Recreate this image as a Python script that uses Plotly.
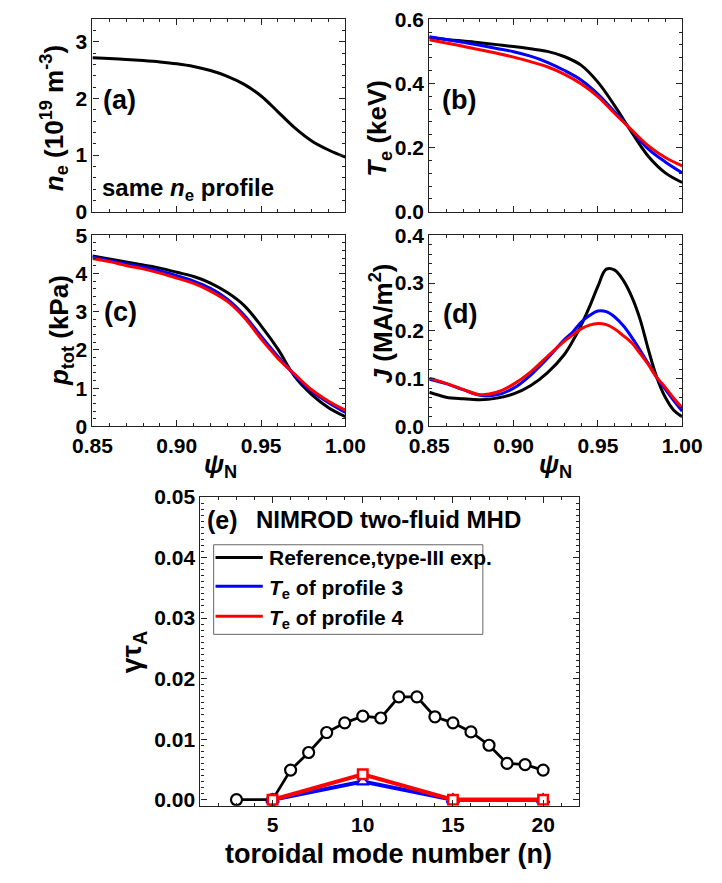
import plotly.graph_objects as go

# ---------------- data ----------------
psi = [0.85, 0.86, 0.87, 0.88, 0.89, 0.90, 0.91, 0.92,
       0.93, 0.94, 0.95, 0.96, 0.97, 0.98, 0.99, 1.00]

# electron density (1e19 m^-3), identical for all cases
ne = [2.72, 2.706, 2.69, 2.671, 2.647, 2.614, 2.566, 2.494,
      2.393, 2.25, 2.045, 1.765, 1.48, 1.25, 1.09, 0.963]

# electron temperature (keV)
te_ref = [0.543, 0.537, 0.532, 0.527, 0.521, 0.515, 0.508, 0.500,
          0.484, 0.457, 0.404, 0.330, 0.248, 0.172, 0.121, 0.091]
te_p3 = [0.546, 0.537, 0.528, 0.519, 0.509, 0.499, 0.485, 0.466,
         0.441, 0.411, 0.367, 0.311, 0.253, 0.195, 0.155, 0.121]
te_p4 = [0.536, 0.526, 0.516, 0.505, 0.494, 0.482, 0.468, 0.452,
         0.429, 0.399, 0.359, 0.306, 0.255, 0.205, 0.169, 0.143]

# total pressure (kPa)
p_ref = [4.46, 4.38, 4.30, 4.22, 4.14, 4.03, 3.92, 3.75,
         3.50, 3.16, 2.63, 2.02, 1.30, 0.83, 0.49, 0.254]
p_p3 = [4.43, 4.34, 4.25, 4.17, 4.07, 3.94, 3.80, 3.61,
        3.33, 2.91, 2.36, 1.83, 1.34, 0.915, 0.62, 0.364]
p_p4 = [4.39, 4.31, 4.21, 4.12, 4.01, 3.88, 3.74, 3.54,
        3.27, 2.85, 2.29, 1.78, 1.36, 0.958, 0.66, 0.424]

# current density (MA/m^2), sampled more densely across the edge peak
psi_j = [0.85, 0.86, 0.87, 0.88, 0.89, 0.90, 0.91, 0.92, 0.93, 0.935,
         0.94, 0.945, 0.95, 0.955, 0.96, 0.965, 0.97, 0.975, 0.98, 0.985,
         0.99, 0.995, 1.00]
j_ref = [0.0714, 0.0612, 0.0578, 0.0558, 0.0592, 0.068, 0.085, 0.112, 0.150, 0.178,
         0.211, 0.250, 0.293, 0.329, 0.327, 0.306, 0.272, 0.2245, 0.160, 0.102,
         0.061, 0.034, 0.0204]
j_p3 = [0.0986, 0.0895, 0.0769, 0.0650, 0.0660, 0.0800, 0.1070, 0.1420, 0.181, 0.197,
        0.218, 0.232, 0.2415, 0.240, 0.229, 0.211, 0.187, 0.160, 0.131, 0.102,
        0.078, 0.054, 0.032]
j_p4 = [0.1010, 0.0900, 0.0775, 0.0665, 0.0714, 0.0884, 0.1136, 0.1463, 0.178, 0.191,
        0.204, 0.212, 0.2155, 0.2129, 0.204, 0.190, 0.175, 0.153, 0.129, 0.102,
        0.0816, 0.059, 0.039]

# linear growth rates vs toroidal mode number
n_ref = [3, 5, 6, 7, 8, 9, 10, 11, 12, 13, 14, 15, 16, 17, 18, 19, 20]
g_ref = [0.0, 0.0, 0.0049, 0.0078, 0.0111, 0.0127, 0.0138, 0.0135, 0.0170,
         0.0170, 0.0137, 0.0127, 0.0112, 0.0090, 0.0060, 0.0058, 0.0049]
n_scan = [5, 10, 15, 20]
g_p3 = [0.0, 0.0030, 0.0, 0.0]
g_p4 = [0.0, 0.0042, 0.0, 0.0]

legend_labels = ["Reference,type-III exp.",
                 "<i>T</i><sub>e</sub> of profile 3",
                 "<i>T</i><sub>e</sub> of profile 4"]

BLACK, BLUE, RED = "#000000", "#0000FF", "#FF0000"
FONT = "Liberation Sans, Arial, sans-serif"
W, H = 722, 883

fig = go.Figure()


def px(X):
    return X / W


def py(Y):
    return 1 - Y / H


def curve(x, y, color, xa, ya, width=3):
    fig.add_trace(go.Scatter(x=x, y=y, mode="lines", xaxis=xa, yaxis=ya,
                             line=dict(color=color, width=width,
                                       shape="spline", smoothing=1.0),
                             showlegend=False, hoverinfo="skip"))


# (a) density
curve(psi, ne, BLACK, "x", "y")
# (b) temperature
curve(psi, te_ref, BLACK, "x2", "y2")
curve(psi, te_p3, BLUE, "x2", "y2")
curve(psi, te_p4, RED, "x2", "y2")
# (c) pressure
curve(psi, p_ref, BLACK, "x3", "y3")
curve(psi, p_p3, BLUE, "x3", "y3")
curve(psi, p_p4, RED, "x3", "y3")
# (d) current density
curve(psi_j, j_ref, BLACK, "x4", "y4")
curve(psi_j, j_p3, BLUE, "x4", "y4")
curve(psi_j, j_p4, RED, "x4", "y4")

# (e) growth rates
fig.add_trace(go.Scatter(x=n_ref, y=g_ref, mode="lines+markers", xaxis="x5", yaxis="y5",
                         line=dict(color=BLACK, width=2.8),
                         marker=dict(symbol="circle", size=11, color="white",
                                     line=dict(color=BLACK, width=2.2)),
                         showlegend=False, hoverinfo="skip"))
fig.add_trace(go.Scatter(x=n_scan, y=g_p3, mode="lines+markers", xaxis="x5", yaxis="y5",
                         line=dict(color=BLUE, width=4),
                         marker=dict(symbol="triangle-up", size=11, color="white",
                                     line=dict(color=BLUE, width=2.2)),
                         showlegend=False, hoverinfo="skip"))
fig.add_trace(go.Scatter(x=n_scan, y=g_p4, mode="lines+markers", xaxis="x5", yaxis="y5",
                         line=dict(color=RED, width=4),
                         marker=dict(symbol="square", size=9.5, color="white",
                                     line=dict(color=RED, width=2.5)),
                         showlegend=False, hoverinfo="skip"))

# ---------------- axes ----------------
common = dict(showline=True, linecolor="#222", linewidth=1.3, mirror="ticks",
              ticks="inside", ticklen=6, tickwidth=1.3, tickcolor="#222",
              showgrid=False, zeroline=False, fixedrange=True,
              tickfont=dict(family=FONT, size=21, color="black", weight="bold"))


def minor(d):
    return dict(dtick=d, ticks="inside", ticklen=3, tickwidth=1, tickcolor="#222",
                showgrid=False)


xdom_l = [px(76.7), px(344.5)]
xdom_r = [px(433.3), px(701)]
ydom_t = [py(205), py(7.5)]
ydom_b = [py(425.5), py(229.2)]

psi_axis = dict(range=[0.85, 1.00], tick0=0.85, dtick=0.05, tickformat=".2f",
                minor=minor(0.01), **common)

fig.update_layout(
    xaxis=dict(domain=xdom_l, anchor="y", showticklabels=False, **psi_axis),
    yaxis=dict(domain=ydom_t, anchor="x", range=[0, 3.4], dtick=1, tickformat="d",
               minor=minor(0.2), **common),
    xaxis2=dict(domain=xdom_r, anchor="y2", showticklabels=False, **psi_axis),
    yaxis2=dict(domain=ydom_t, anchor="x2", range=[0, 0.6], dtick=0.2, tickformat=".1f",
                minor=minor(0.04), **common),
    xaxis3=dict(domain=xdom_l, anchor="y3", **psi_axis),
    yaxis3=dict(domain=ydom_b, anchor="x3", range=[0, 5], dtick=1, tickformat="d",
                minor=minor(0.2), **common),
    xaxis4=dict(domain=xdom_r, anchor="y4", **psi_axis),
    yaxis4=dict(domain=ydom_b, anchor="x4", range=[0, 0.4], dtick=0.1, tickformat=".1f",
                minor=minor(0.02), **common),
    xaxis5=dict(domain=[px(191), px(592)], anchor="y5", range=[1, 22], tick0=0, dtick=5,
                minor=minor(1), **common),
    yaxis5=dict(domain=[py(815), py(498)], anchor="x5", range=[-0.001, 0.05], tick0=0,
                dtick=0.01, tickformat=".2f", minor=minor(0.001), **common),
)

# ---------------- text ----------------
ann = []


def text(t, X, Y, size, xanchor="center", angle=0):
    ann.append(dict(text=t, x=px(X), y=py(Y), xref="paper", yref="paper",
                    xanchor=xanchor, yanchor="middle", textangle=angle, showarrow=False,
                    font=dict(family=FONT, size=size, color="black", weight="bold")))


# axis titles
text("<i>n</i><sub>e</sub> (10<sup>19</sup> m<sup>-3</sup>)", 36, 109, 26, angle=-90)
text("<i>T</i><sub>e</sub> (keV)", 380, 119, 26, angle=-90)
text("<i>p</i><sub>tot</sub> (kPa)", 43, 327, 26, angle=-90)
text("<i>J</i> (MA/m<sup>2</sup>)", 383, 320, 26, angle=-90)
text("<i>ψ</i><sub>N</sub>", 212, 466, 26)
text("<i>ψ</i><sub>N</sub>", 567, 466, 26)
text("γτ<sub>A</sub>", 121, 657, 28, angle=-90)
text("toroidal mode number (n)", 390, 865, 27)

# panel labels
text("(a)", 105, 90, 27)
text("(b)", 465, 90, 27)
text("(c)", 106, 308, 27)
text("(d)", 466, 310, 27)
text("same <i>n</i><sub>e</sub> profile", 85, 182, 24, xanchor="left")
text("(e)", 214, 522, 25)
text("NIMROD two-fluid MHD", 248, 521, 24, xanchor="left")

# legend of panel (e)
shapes = [dict(type="rect", xref="paper", yref="paper",
               x0=px(205), x1=px(490), y0=py(639), y1=py(547),
               line=dict(color="#666", width=1), fillcolor="white", layer="below")]
for label, color, Y in zip(legend_labels, [BLACK, BLUE, RED], [560, 589.5, 620.5]):
    shapes.append(dict(type="line", xref="paper", yref="paper",
                       x0=px(207), x1=px(257), y0=py(Y), y1=py(Y),
                       line=dict(color=color, width=3)))
    text(label, 262, Y + (0 if color == BLACK else 3), 21, xanchor="left")

fig.update_layout(
    width=W, height=H, margin=dict(l=0, r=0, t=0, b=0),
    paper_bgcolor="white", plot_bgcolor="white",
    font=dict(family=FONT, size=21, color="black", weight="bold"),
    showlegend=False, annotations=ann, shapes=shapes,
)

fig.write_html("out.html")
